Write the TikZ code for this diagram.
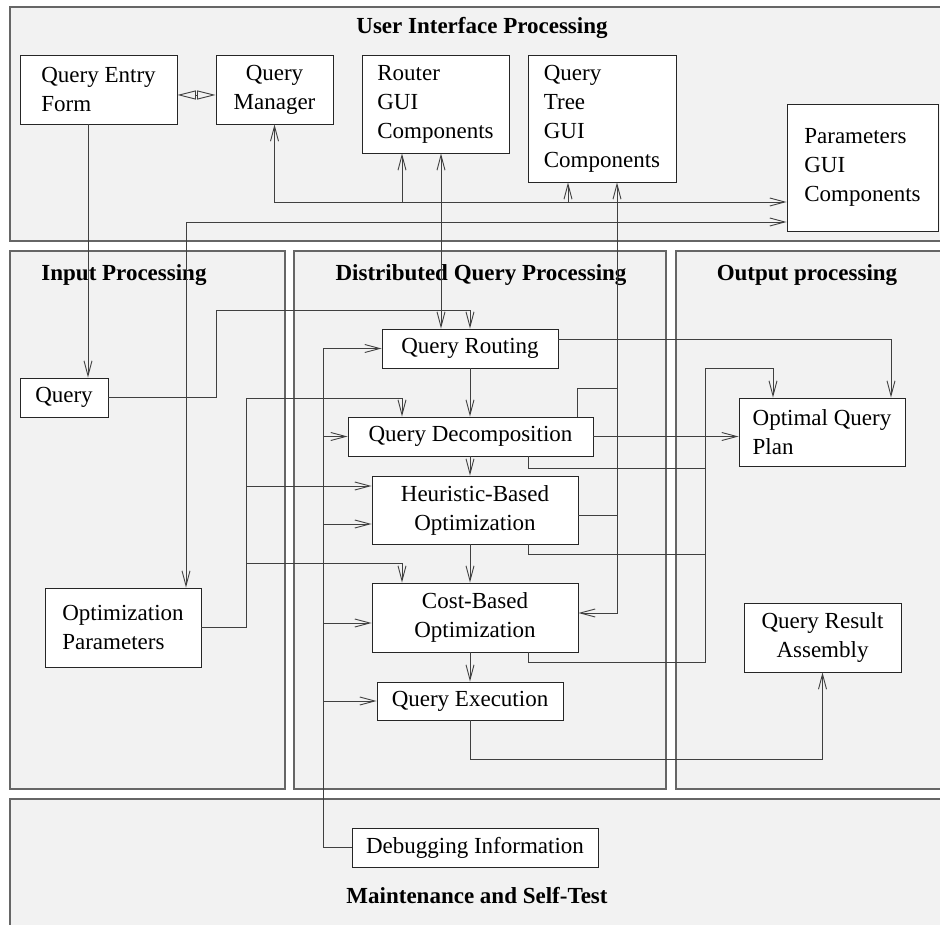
\documentclass[tikz,border=0pt]{standalone}
\usepackage{fontspec}
\setmainfont{Liberation Serif}
\usetikzlibrary{arrows.meta,calc}

\begin{document}
\begin{tikzpicture}[x=1pt,y=-1pt,
  font=\fontsize{23}{29}\selectfont,
  >={Straight Barb[length=15pt,width=8pt]},
  panel/.style={draw=black!60,line width=1.5pt,fill=black!5},
  title/.style={font=\fontsize{23}{29}\selectfont\bfseries},
  box/.style={draw=black!85,fill=white,line width=0.9pt,inner sep=2pt,align=left},
  wire/.style={draw=black!75,line width=0.9pt}]
  \useasboundingbox (0,0) rectangle (940,925);

  % Panels
  \draw[panel] (10,7) rectangle (960,241);
  \draw[panel] (10,251) rectangle (285,789);
  \draw[panel] (294,251) rectangle (666,789);
  \draw[panel] (676,251) rectangle (960,789);
  \draw[panel] (10,799) rectangle (960,940);

  % Titles
  \node[title] (uititle) at (482,28) {User Interface Processing};
  \node[title] (intitle) at (124,275) {Input Processing};
  \node[title] (dqtitle) at (481,275) {Distributed Query Processing};
  \node[title] (outtitle) at (807,275) {Output processing};
  \node[title] (mttitle) at (477,896) {Maintenance and Self-Test};

  % User interface
  \node[box,minimum width=157pt,minimum height=69pt] (qef) at (98.5,89.5) {Query Entry\\Form};
  \node[box,align=center,minimum width=117pt,minimum height=69pt] (qm) at (274.5,89.5) {Query\\Manager};
  \node[box,minimum width=147pt,minimum height=98pt] (router) at (435.5,104) {Router\\GUI\\Components};
  \node[box,minimum width=148pt,minimum height=127pt] (qtree) at (602,118.5) {Query\\Tree\\GUI\\Components};
  \node[box,minimum width=151pt,minimum height=127pt] (params) at (862.5,167.5) {Parameters\\GUI\\Components};

  % Input
  \node[box,minimum width=88pt,minimum height=39pt] (query) at (64,397.5) {Query};
  \node[box,minimum width=156pt,minimum height=79pt] (optpar) at (123,627.5) {Optimization\\Parameters};

  % Distributed query processing
  \node[box,minimum width=176pt,minimum height=39pt] (qrout) at (470,348.5) {Query Routing};
  \node[box,minimum width=245pt,minimum height=39pt] (qdec) at (470.5,436.5) {Query Decomposition};
  \node[box,align=center,minimum width=206pt,minimum height=68pt] (heur) at (475,510) {Heuristic-Based\\Optimization};
  \node[box,align=center,minimum width=206pt,minimum height=69pt] (cost) at (475,617.5) {Cost-Based\\Optimization};
  \node[box,minimum width=186pt,minimum height=38pt] (qexec) at (470,701) {Query Execution};

  % Output
  \node[box,minimum width=166pt,minimum height=68pt] (oqp) at (822,432) {Optimal Query\\Plan};
  \node[box,align=center,minimum width=157pt,minimum height=69pt] (qra) at (822.5,637.5) {Query Result\\Assembly};

  % Maintenance
  \node[box,minimum width=246pt,minimum height=39pt] (debug) at (475,847.5) {Debugging Information};

  % Bus points
  \coordinate (ypair) at (0,95);
  \coordinate (busA) at (0,202);
  \coordinate (busB) at (0,222);
  \coordinate (xentry) at (88,0);
  \coordinate (xrouter) at (402,0);
  \coordinate (xtree) at (568,0);
  \coordinate (xlink) at (441,0);
  \coordinate (xopt) at (186,0);
  \coordinate (qjog) at (216,310);
  \coordinate (obus) at (246,398);
  \coordinate (xpar) at (402,0);
  \coordinate (yheurA) at (0,486);
  \coordinate (ycostA) at (0,563);
  \coordinate (dbus) at (323,0);
  \coordinate (yheurB) at (0,524);
  \coordinate (ycostB) at (0,623);
  \coordinate (tcorner) at (617,613);
  \coordinate (dj) at (577,388);
  \coordinate (yheurC) at (0,515);
  \coordinate (rcorner) at (891,339);
  \coordinate (xo) at (528,0);
  \coordinate (obot) at (705,662);
  \coordinate (otop) at (705,368);
  \coordinate (od) at (705,468);
  \coordinate (oh) at (705,554);
  \coordinate (xplan) at (773,0);
  \coordinate (yres) at (0,759);

  % GUI links
  \draw[wire,{Triangle[open,length=18.5pt,width=9pt]}-{Triangle[open,length=18.5pt,width=9pt]}] (qef.east |- ypair) -- (qm.west |- ypair);
  \draw[wire,<->] (qm.south) |- (params.west |- busA);
  \draw[wire,->] (busA -| xrouter) -- (router.south -| xrouter);
  \draw[wire,->] (busA -| xtree) -- (qtree.south -| xtree);
  \draw[wire,<->] (params.west |- busB) -| (optpar.north -| xopt);
  \draw[wire,<->] (router.south -| xlink) -- (qrout.north -| xlink);
  \draw[wire,->] (qef.south -| xentry) -- (query.north -| xentry);
  \draw[wire,->] (query.east) -| (qjog) -| (qrout.north);

  % Processing chain
  \foreach \a/\b in {qrout/qdec,qdec/heur,heur/cost,cost/qexec}
    \draw[wire,->] (\a.south -| qrout.south) -- (\b.north -| qrout.south);

  % Optimization parameters
  \draw[wire,->] (optpar.east) -| (obus) -| (qdec.north -| xpar);
  \draw[wire,->] (yheurA -| obus) -- (heur.west |- yheurA);
  \draw[wire,->] (ycostA -| obus) -| (cost.north -| xpar);

  % Debugging
  \draw[wire,->] (debug.west) -| (qrout.west -| dbus) -- (qrout.west);
  \draw[wire,->] (qdec.west -| dbus) -- (qdec.west);
  \draw[wire,->] (yheurB -| dbus) -- (heur.west |- yheurB);
  \draw[wire,->] (ycostB -| dbus) -- (cost.west |- ycostB);
  \draw[wire,->] (qexec.west -| dbus) -- (qexec.west);

  % Query tree
  \draw[wire,<->] (qtree.south -| tcorner) -- (tcorner) -- (cost.east |- tcorner);
  \draw[wire] (qdec.north -| dj) -- (dj) -- (tcorner |- dj);
  \draw[wire] (heur.east |- yheurC) -- (tcorner |- yheurC);

  % Optimal plan
  \draw[wire,->] (qrout.east |- rcorner) -| (oqp.north -| rcorner);
  \draw[wire,->] (qdec.east) -- (oqp.west |- qdec.east);
  \draw[wire,->] (cost.south -| xo) |- (obot) -- (otop) -| (oqp.north -| xplan);
  \draw[wire] (qdec.south -| xo) |- (od);
  \draw[wire] (heur.south -| xo) |- (oh);

  % Result
  \draw[wire,->] (qexec.south) |- (yres -| qra.south) -- (qra.south);
\end{tikzpicture}
\end{document}
